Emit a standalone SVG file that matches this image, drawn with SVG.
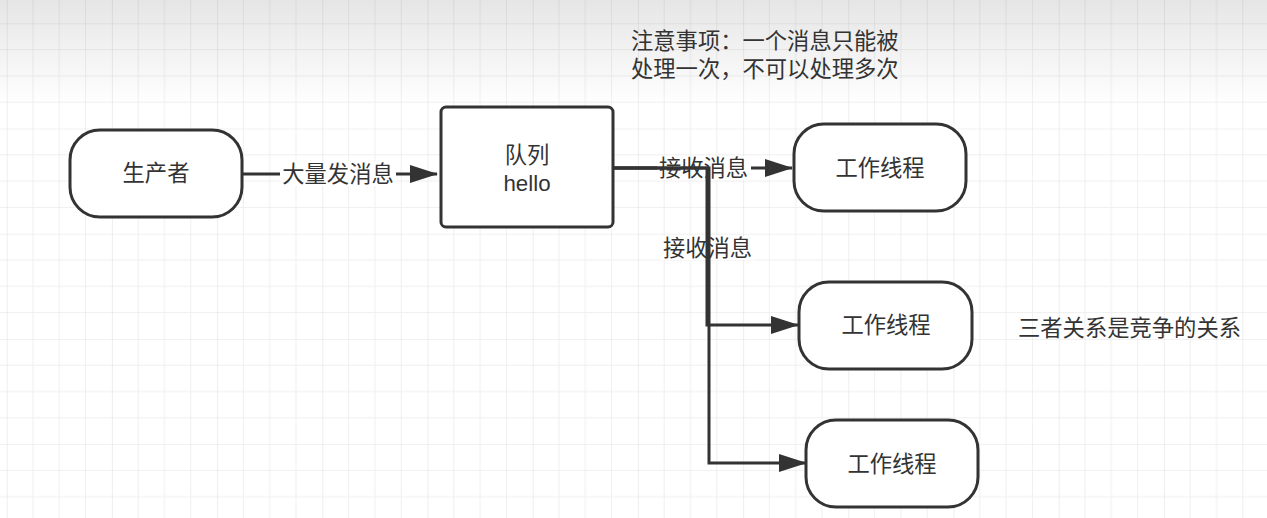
<svg xmlns="http://www.w3.org/2000/svg" width="1267" height="518" viewBox="0 0 1267 518">
<defs>
<pattern id="grid" patternUnits="userSpaceOnUse" x="6.7" y="23.3" width="105.2" height="105.2">
<path d="M26.3 0V105.2M52.6 0V105.2M78.9 0V105.2M0 26.3H105.2M0 52.6H105.2M0 78.9H105.2" stroke="#efefef" stroke-width="1" fill="none"/>
<path d="M0 0V105.2M0 0H105.2" stroke="#e3e3e3" stroke-width="1.2" fill="none"/>
</pattern>
<linearGradient id="shade" x1="0" y1="0" x2="0" y2="1">
<stop offset="0" stop-color="#000" stop-opacity="0.1"/>
<stop offset="1" stop-color="#000" stop-opacity="0"/>
</linearGradient>
<marker id="arr" viewBox="0 0 28 18" refX="27" refY="9" markerWidth="28" markerHeight="18" markerUnits="userSpaceOnUse" orient="auto">
<path d="M0 0L28 9L0 18Z" fill="#333"/>
</marker>
<style>
.node{fill:#fff;stroke:#333;stroke-width:3}
.t{font-family:"Liberation Sans","Noto Sans CJK SC",sans-serif;font-size:22.3px;fill:#333;text-anchor:middle;dominant-baseline:central}
.n{font-family:"Liberation Sans","Noto Sans CJK SC",sans-serif;font-size:22.3px;fill:#333;dominant-baseline:central}
.e{fill:none;stroke:#333;stroke-width:3}
.lb{fill:#fff}
</style>
</defs>
<rect width="1267" height="518" fill="#fff"/>
<rect width="1267" height="518" fill="url(#grid)"/>
<rect width="1267" height="105" fill="url(#shade)"/>

<g id="connectors">
<path class="e" d="M243 174H437" marker-end="url(#arr)"/>
<rect class="lb" x="280" y="162" width="116" height="24"/>
<text class="t" x="338" y="174">大量发消息</text>
<path class="e" d="M614 168H792" marker-end="url(#arr)"/>
<rect class="lb" x="657" y="156" width="94" height="24"/>
<text class="t" x="703.5" y="168">接收消息</text>
<rect class="lb" x="661" y="236" width="94" height="24"/>
<text class="t" x="707.5" y="248">接收消息</text>
<path class="e" d="M614 168H707V325H798" marker-end="url(#arr)"/>
<path class="e" d="M614 168H709V463H806" marker-end="url(#arr)"/>
</g>

<g id="producer">
<rect class="node" x="70" y="130" width="172" height="87" rx="30" ry="30"/>
<text class="t" x="156" y="173">生产者</text>
</g>
<g id="queue">
<rect class="node" x="441" y="107" width="172" height="120" rx="5" ry="5"/>
<text class="t" x="527" y="155">队列</text>
<text class="t" x="527" y="183">hello</text>
</g>
<g id="worker1">
<rect class="node" x="794" y="124" width="172" height="87" rx="30" ry="30"/>
<text class="t" x="880" y="168">工作线程</text>
</g>
<g id="worker2">
<rect class="node" x="799" y="282" width="173" height="87" rx="30" ry="30"/>
<text class="t" x="886" y="325">工作线程</text>
</g>
<g id="worker3">
<rect class="node" x="806" y="420" width="172" height="87" rx="30" ry="30"/>
<text class="t" x="892" y="464">工作线程</text>
</g>
<g id="note">
<text class="n" x="631" y="41">注意事项：一个消息只能被</text>
<text class="n" x="631" y="69">处理一次，不可以处理多次</text>
</g>
<g id="relation">
<text class="n" x="1018" y="328">三者关系是竞争的关系</text>
</g>
</svg>
